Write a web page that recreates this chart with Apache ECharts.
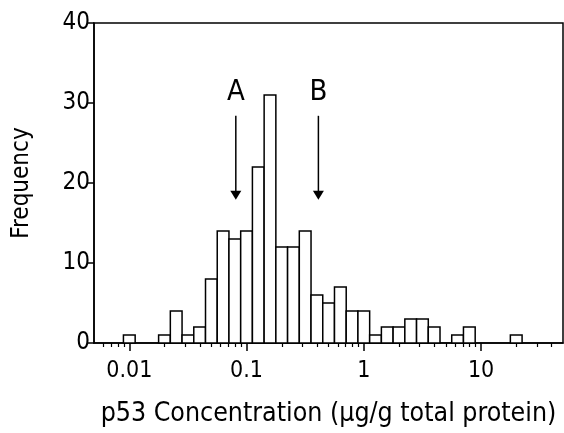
<!DOCTYPE html>
<html>
<head>
<meta charset="utf-8">
<script src="https://cdn.jsdelivr.net/npm/echarts@6/dist/echarts.min.js"></script>
<style>
  html, body { margin: 0; padding: 0; background: #fff; }
  #chart { width: 564px; height: 433px; }
</style>
</head>
<body>
<div id="chart"></div>
<script>
// histogram bins: centre of each bin as log10(concentration), 0.1 decade wide
var binExp = [-2.0, -1.9, -1.8, -1.7, -1.6, -1.5, -1.4, -1.3, -1.2, -1.1,
              -1.0, -0.9, -0.8, -0.7, -0.6, -0.5, -0.4, -0.3, -0.2, -0.1,
               0.0,  0.1,  0.2,  0.3,  0.4,  0.5,  0.6,  0.7,  0.8,  0.9,
               1.0,  1.1,  1.2,  1.3];
var counts = [1, 0, 0, 1, 4, 1, 2, 8, 14, 13,
              14, 22, 31, 12, 12, 14, 6, 5, 7, 4,
              4, 1, 2, 2, 3, 3, 2, 0, 1, 2,
              0, 0, 0, 1];

var majorTicks = [0.01, 0.1, 1, 10];
var minorTicks = [0.006, 0.007, 0.008, 0.009,
                  0.02, 0.03, 0.04, 0.05, 0.06, 0.07, 0.08, 0.09,
                  0.2, 0.3, 0.4, 0.5, 0.6, 0.7, 0.8, 0.9,
                  2, 3, 4, 5, 6, 7, 8, 9,
                  20, 30, 40];
var yTicks = [0, 10, 20, 30, 40];

var arrowX = [0.081, 0.41];
var arrowLabels = ['A', 'B'];

var FONT = "'DejaVu Sans Condensed', 'Liberation Sans Narrow', 'DejaVu Sans', sans-serif";

var barData = [];
binExp.forEach(function (e, i) {
  if (counts[i] > 0) barData.push([Math.pow(10, e), counts[i]]);
});

var chart = echarts.init(document.getElementById('chart'), null, { renderer: 'canvas' });

chart.setOption({
  animation: false,
  backgroundColor: '#fff',
  grid: { left: 94, right: 1, top: 23, bottom: 86, show: true, borderColor: '#000', borderWidth: 1.5, backgroundColor: 'transparent' },
  xAxis: [{
    type: 'log', logBase: 10, min: 0.005, max: 50, position: 'bottom',
    axisLine: { lineStyle: { color: '#000', width: 1.5 } },
    axisTick: { customValues: majorTicks, length: 8, inside: false, lineStyle: { color: '#000', width: 1.5 } },
    axisLabel: { customValues: majorTicks, color: '#000', fontFamily: FONT, fontSize: 23, margin: 17,
      formatter: function (v) { return String(v); } },
    splitLine: { show: false },
    name: 'p53 Concentration (\u00b5g/g total protein)',
    nameLocation: 'middle', nameGap: 58,
    nameTextStyle: { color: '#000', fontFamily: FONT, fontSize: 26.5 }
  }, {
    type: 'log', logBase: 10, min: 0.005, max: 50, position: 'bottom',
    axisLine: { show: false },
    axisTick: { customValues: minorTicks, length: 4, lineStyle: { color: '#000', width: 1.2 } },
    axisLabel: { show: false },
    splitLine: { show: false }
  }],
  yAxis: {
    type: 'value', min: 0, max: 40, interval: 10,
    axisLine: { show: true, lineStyle: { color: '#000', width: 1.5 } },
    axisTick: { show: true, length: 7, lineStyle: { color: '#000', width: 1.5 } },
    axisLabel: { color: '#000', fontFamily: FONT, fontSize: 24, margin: 4 },
    splitLine: { show: false },
    name: 'Frequency', nameLocation: 'middle', nameGap: 60,
    nameTextStyle: { color: '#000', fontFamily: FONT, fontSize: 24 }
  },
  series: [{
    type: 'custom',
    xAxisIndex: 0,
    data: barData,
    renderItem: function (params, api) {
      var c = Math.log10(api.value(0));
      var tl = api.coord([Math.pow(10, c - 0.05), api.value(1)]);
      var br = api.coord([Math.pow(10, c + 0.05), 0]);
      return {
        type: 'rect',
        shape: { x: tl[0], y: tl[1], width: br[0] - tl[0], height: br[1] - tl[1] },
        style: { fill: '#fff', stroke: '#000', lineWidth: 1.5 }
      };
    }
  }, {
    type: 'custom',
    xAxisIndex: 0,
    data: arrowX.map(function (x, i) { return [x, arrowLabels[i]]; }),
    renderItem: function (params, api) {
      var x = api.value(0);
      var top = api.coord([x, 28.4]);
      var tip = api.coord([x, 17.9]);
      var lab = api.coord([x, 31.3]);
      return {
        type: 'group',
        children: [{
          type: 'line',
          shape: { x1: top[0], y1: top[1], x2: tip[0], y2: tip[1] - 6 },
          style: { stroke: '#000', lineWidth: 1.5 }
        }, {
          type: 'polygon',
          shape: { points: [[tip[0] - 5.5, tip[1] - 9], [tip[0] + 5.5, tip[1] - 9], [tip[0], tip[1]]] },
          style: { fill: '#000' }
        }, {
          type: 'text',
          x: lab[0], y: lab[1],
          style: { text: arrowLabels[params.dataIndex], fill: '#000', font: '29px ' + FONT, align: 'center', verticalAlign: 'middle' }
        }]
      };
    }
  }]
});
</script>
</body>
</html>
